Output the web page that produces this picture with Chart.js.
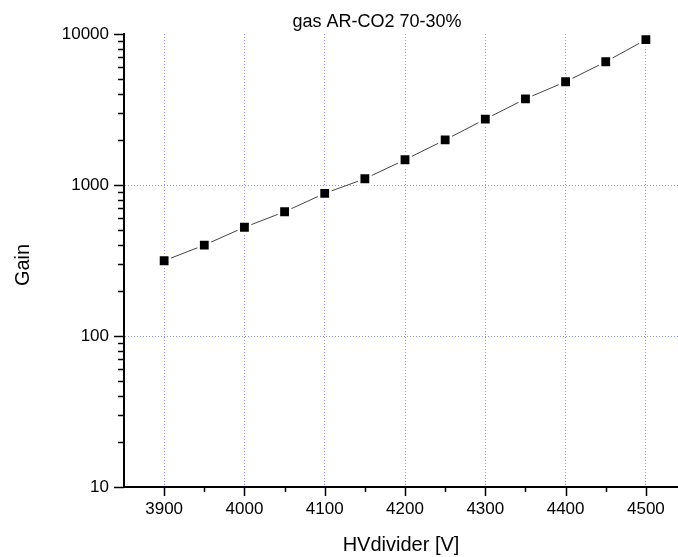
<!DOCTYPE html>
<html>
<head>
<meta charset="utf-8">
<script src="https://cdn.jsdelivr.net/npm/chart.js@4"></script>
<style>
  html, body { margin: 0; padding: 0; background: #fff; }
  canvas { display: block; }
</style>
</head>
<body>
<canvas id="myChart" width="678" height="557"></canvas>
<script>
// dati
const tensione = [3900, 3950, 4000, 4050, 4100, 4150, 4200, 4250, 4300, 4350, 4400, 4450, 4500];
const guadagno = [315, 400, 525, 665, 880, 1100, 1470, 1990, 2730, 3720, 4830, 6550, 9170];
const xTicks = [3900, 3950, 4000, 4050, 4100, 4150, 4200, 4250, 4300, 4350, 4400, 4450, 4500];
const yTicks = [10, 20, 30, 40, 50, 60, 70, 80, 90, 100, 200, 300, 400, 500, 600, 700, 800, 900,
  1000, 2000, 3000, 4000, 5000, 6000, 7000, 8000, 9000, 10000];

const titolo = "gas AR-CO2 70-30%";
const titoloX = "HVdivider [V]";
const titoloY = "Gain";

const font = "'Liberation Sans', Arial, sans-serif";
const blu = "rgba(110, 110, 255, 0.75)";

const isDecade = (v) => Math.abs(Math.log10(v) - Math.round(Math.log10(v))) < 1e-9;

// tacche degli assi + titoli
const extraPlugin = {
  id: "extra",
  afterDraw(chart) {
    const ctx = chart.ctx;
    const area = chart.chartArea;
    const sx = chart.scales.x;
    const sy = chart.scales.y;
    ctx.save();
    ctx.strokeStyle = "#000";
    ctx.lineWidth = 1.5;
    xTicks.forEach((v) => {
      const px = Math.round(sx.getPixelForValue(v)) + 0.5;
      const len = v % 100 === 0 ? 9 : 5;
      ctx.beginPath();
      ctx.moveTo(px, area.bottom);
      ctx.lineTo(px, area.bottom + len);
      ctx.stroke();
    });
    yTicks.forEach((v) => {
      const py = Math.round(sy.getPixelForValue(v)) + 0.5;
      const len = isDecade(v) ? 10 : 6;
      ctx.beginPath();
      ctx.moveTo(area.left, py);
      ctx.lineTo(area.left - len, py);
      ctx.stroke();
    });

    ctx.fillStyle = "#000";
    ctx.font = "18px " + font;
    ctx.textAlign = "center";
    ctx.textBaseline = "alphabetic";
    ctx.fillText(titolo, 377, 27);

    ctx.translate(23, 265);
    ctx.rotate(-Math.PI / 2);
    ctx.font = "20px " + font;
    ctx.textBaseline = "middle";
    ctx.fillText(titoloY, 0, 0);
    ctx.restore();
  },
};

const ctx = document.getElementById("myChart").getContext("2d");

new Chart(ctx, {
  type: "line",
  data: {
    datasets: [
      {
        data: tensione.map((v, i) => ({ x: v, y: guadagno[i] })),
        borderColor: "#444",
        borderWidth: 1,
        pointStyle: "rect",
        pointRadius: 8,
        pointBackgroundColor: "#000",
        pointBorderColor: "#fff",
        pointBorderWidth: 2.5,
        tension: 0,
        clip: 10,
      },
    ],
  },
  options: {
    responsive: false,
    devicePixelRatio: 1,
    animation: false,
    layout: { autoPadding: false, padding: { top: 34, right: 0, left: 0, bottom: 0 } },
    plugins: {
      legend: { display: false },
      tooltip: { enabled: false },
      title: { display: false },
    },
    scales: {
      x: {
        type: "linear",
        min: 3850,
        max: 4540,
        afterBuildTicks: (scale) => {
          scale.ticks = xTicks.map((v) => ({ value: v }));
        },
        afterFit: (scale) => {
          scale.height = 70;
        },
        ticks: {
          autoSkip: false,
          maxRotation: 0,
          padding: 12,
          color: "#000",
          font: { family: font, size: 17 },
          callback: (v) => (v % 100 === 0 ? String(v) : ""),
        },
        grid: {
          drawTicks: false,
          lineWidth: 1,
          color: (c) => (c.tick && c.tick.value % 100 === 0 ? blu : "transparent"),
        },
        border: { display: true, color: "#000", width: 2, dash: [1, 2] },
        title: {
          display: true,
          text: titoloX,
          color: "#000",
          font: { family: font, size: 20 },
          padding: { top: 0, bottom: 0 },
        },
      },
      y: {
        type: "logarithmic",
        min: 10,
        max: 10000,
        afterBuildTicks: (scale) => {
          scale.ticks = yTicks.map((v) => ({ value: v }));
        },
        afterFit: (scale) => {
          scale.width = 124;
        },
        ticks: {
          autoSkip: false,
          padding: 15,
          color: "#000",
          font: { family: font, size: 17 },
          callback: (v) => (isDecade(v) ? String(v) : ""),
        },
        grid: {
          drawTicks: false,
          lineWidth: 1,
          color: (c) =>
            c.tick && (c.tick.value === 100 || c.tick.value === 1000) ? blu : "transparent",
        },
        border: { display: true, color: "#000", width: 2, dash: [1, 2] },
      },
    },
  },
  plugins: [extraPlugin],
});
</script>
</body>
</html>
